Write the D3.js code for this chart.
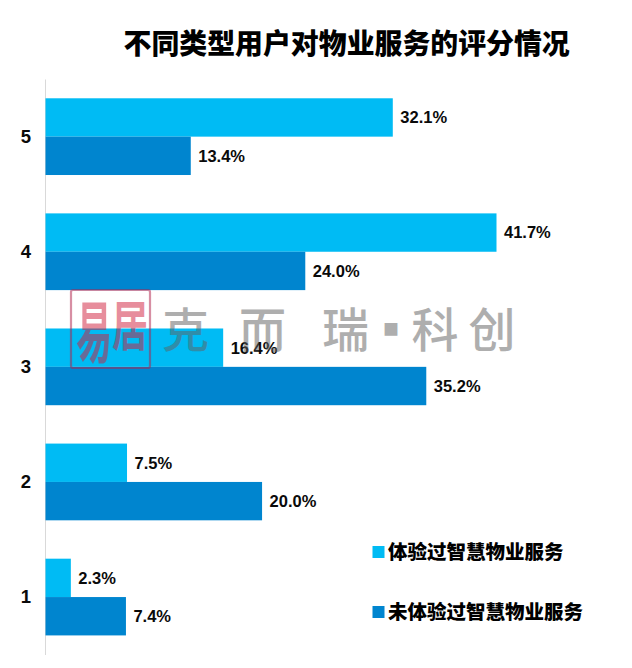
<!DOCTYPE html>
<html><head><meta charset="utf-8">
<script src="https://cdn.jsdelivr.net/npm/d3@7/dist/d3.min.js"></script>
<style>html,body{margin:0;padding:0;background:#fff}svg{display:block}</style></head>
<body><svg id="c" width="632" height="668"></svg>
<script>
const categories = ["5","4","3","2","1"];
const experienced = [32.1,41.7,16.4,7.5,2.3];
const notExperienced = [13.4,24.0,35.2,20.0,7.4];
const seriesNames = ["体验过智慧物业服务","未体验过智慧物业服务"];
const seriesColors = ["#00BBF4","#0085CF"];
const titleText = "不同类型用户对物业服务的评分情况";
const latin = "'Liberation Sans',Arial,sans-serif";
const cjk = "'Noto Sans CJK SC','Liberation Sans',sans-serif";

const svg = d3.select("#c");
const x = d3.scaleLinear().domain([0,41.7]).range([45.5,496]);
const y = d3.scaleBand().domain(categories).range([79.5,655]).paddingInner(1/3).paddingOuter(1/6);
const half = y.bandwidth()/2;

svg.append("text").attr("x",123.5).attr("y",54).attr("font-family",cjk).attr("font-weight",900)
  .attr("font-size",27.9).attr("fill","#000").text(titleText);

svg.append("line").attr("x1",45.5).attr("x2",45.5).attr("y1",79.5).attr("y2",655).attr("stroke","#D9D9D9").attr("stroke-width",1);

[experienced,notExperienced].forEach((vals,s)=>{
  const g = svg.append("g");
  g.selectAll("rect").data(vals).join("rect")
    .attr("x",x(0)).attr("y",(d,i)=>y(categories[i])+s*half-0.4)
    .attr("width",d=>x(d)-x(0)+0.5).attr("height",half).attr("fill",seriesColors[s]);
  g.selectAll("text").data(vals).join("text")
    .attr("x",d=>x(d)+8).attr("y",(d,i)=>y(categories[i])+s*half+half/2+5.5)
    .attr("font-family",latin).attr("font-weight",700).attr("font-size",16.5).attr("fill","#0a0a0a")
    .text(d=>d.toFixed(1)+"%");
});

svg.append("g").selectAll("text").data(categories).join("text")
  .attr("x",26).attr("y",d=>y(d)+y.bandwidth()/2+6).attr("text-anchor","middle")
  .attr("font-family",latin).attr("font-weight",700).attr("font-size",18.5).attr("fill","#0a0a0a").text(d=>d);

const legendY = [552,612];
seriesNames.forEach((n,i)=>{
  svg.append("rect").attr("x",372.5).attr("y",legendY[i]-6).attr("width",12).attr("height",12).attr("fill",seriesColors[i]);
  svg.append("text").attr("x",388).attr("y",legendY[i]+7).attr("font-family",cjk).attr("font-weight",900)
    .attr("font-size",19.5).attr("fill","#000").text(n);
});

// watermark
const seal = svg.append("g").attr("opacity",0.5);
seal.append("rect").attr("x",71).attr("y",290).attr("width",79).attr("height",78).attr("rx",2)
  .attr("fill","none").attr("stroke","#B0204A").attr("stroke-width",2.2);
const sealChars = [["易",94,357,1.85],["居",130,346,1.5]];
seal.selectAll("text.s").data(sealChars).join("text").attr("class","s")
  .attr("text-anchor","middle").attr("font-family",cjk).attr("font-weight",700)
  .attr("font-size",36).attr("fill","#D01E3C")
  .attr("transform",d=>`translate(${d[1]},${d[2]}) scale(1,${d[3]})`).text(d=>d[0]);

const wm = svg.append("g").attr("opacity",0.5);
const wmChars = [["克",185.5],["而",262.5],["瑞",345.5],["▪",391],["科",435],["创",492]];
wm.selectAll("text.w").data(wmChars).join("text").attr("class","w")
  .attr("x",d=>d[0]==="▪"?d[1]:d[1]).attr("y",347).attr("text-anchor","middle").attr("font-family",cjk).attr("font-weight",500)
  .attr("font-size",47).attr("fill","#606060").text(d=>d[0]);
</script></body></html>
